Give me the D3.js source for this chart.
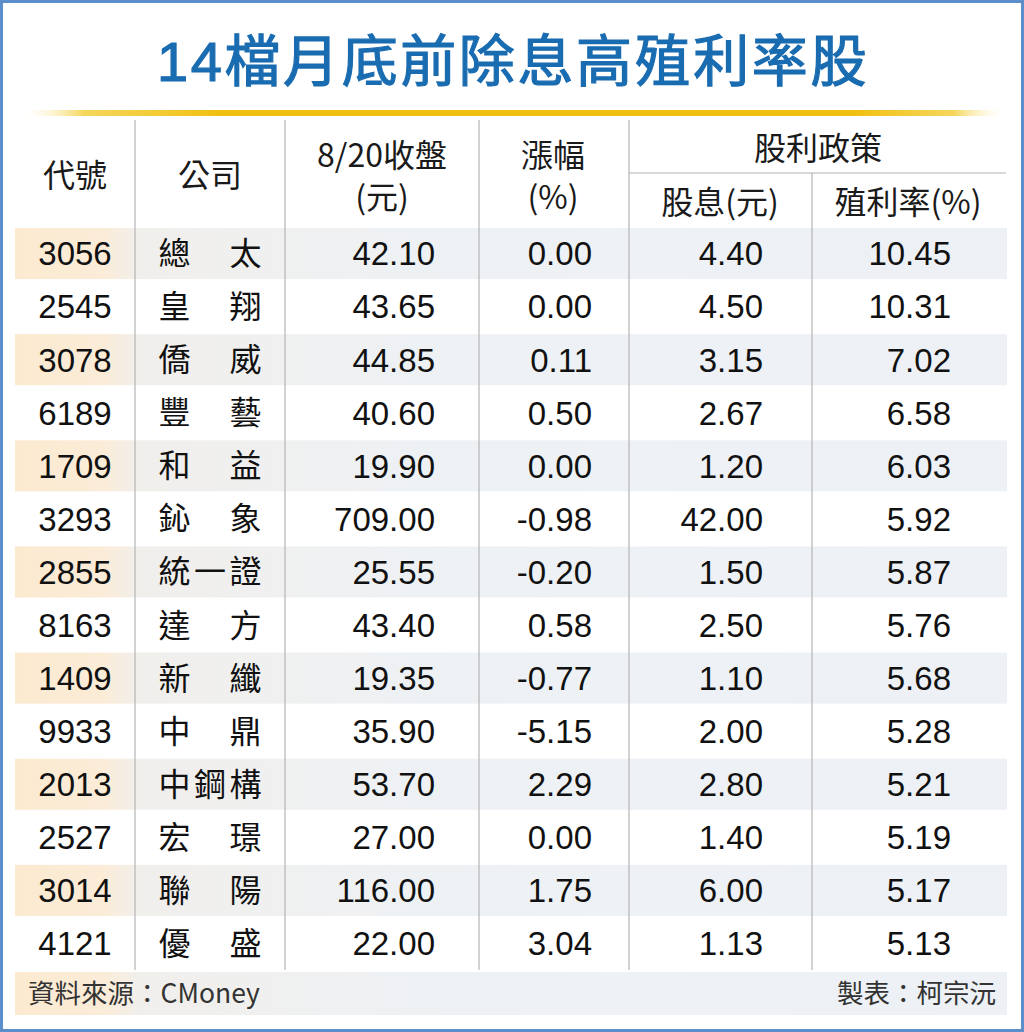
<!DOCTYPE html>
<meta charset="utf-8">
<script src="https://d3js.org/d3.v7.min.js"></script>
<style>
    body { margin: 0; background: #fff; }
    svg { display: block; }
    .num { font-family: "Liberation Sans", Arial, sans-serif; }
    .cjk { font-family: "Noto Sans CJK TC", "Noto Sans CJK SC", sans-serif; }
    .ttl { font-family: "Liberation Sans", Arial, "Noto Sans CJK TC", sans-serif; }
</style>
<body>
<div id="chart"></div>
<script>
    // table data
    var codes = ["3056", "2545", "3078", "6189", "1709", "3293", "2855", "8163", "1409", "9933", "2013", "2527", "3014", "4121"]
    var names = ["總太", "皇翔", "僑威", "豐藝", "和益", "鈊象", "統一證", "達方", "新纖", "中鼎", "中鋼構", "宏璟", "聯陽", "優盛"]
    var closes = [42.10, 43.65, 44.85, 40.60, 19.90, 709.00, 25.55, 43.40, 19.35, 35.90, 53.70, 27.00, 116.00, 22.00]
    var changes = [0.00, 0.00, 0.11, 0.50, 0.00, -0.98, -0.20, 0.58, -0.77, -5.15, 2.29, 0.00, 1.75, 3.04]
    var dividends = [4.40, 4.50, 3.15, 2.67, 1.20, 42.00, 1.50, 2.50, 1.10, 2.00, 2.80, 1.40, 6.00, 1.13]
    var yields = [10.45, 10.31, 7.02, 6.58, 6.03, 5.92, 5.87, 5.76, 5.68, 5.28, 5.21, 5.19, 5.17, 5.13]

    var title = "14檔月底前除息高殖利率股"
    var source = "資料來源：CMoney"
    var maker = "製表：柯宗沅"

    const width = 1024, height = 1032;
    const fmt = d3.formatLocale({decimal: ".", thousands: ",", grouping: [3], currency: ["", ""], minus: "-"}).format(".2f");

    var svg = d3.select("#chart").append("svg")
        .attr("width", width)
        .attr("height", height);

    var defs = svg.append("defs");

    var rowGrad = defs.append("linearGradient")
        .attr("id", "rowGrad")
        .attr("gradientUnits", "userSpaceOnUse")
        .attr("x1", 15).attr("x2", 1007).attr("y1", 0).attr("y2", 0);
    [[0, "#fcead0"], [0.09, "#fbecd8"], [0.125, "#f1efec"], [0.4, "#eef1f4"], [1, "#edf1f6"]]
        .forEach(s => rowGrad.append("stop").attr("offset", s[0]).attr("stop-color", s[1]));

    var goldGrad = defs.append("linearGradient")
        .attr("id", "goldGrad")
        .attr("x1", 0).attr("x2", 1).attr("y1", 0).attr("y2", 0);
    [[0, "#fff6cc", 0], [0.06, "#f3cc33", 0.8], [0.2, "#f0c010", 1], [0.85, "#f0c010", 1], [0.95, "#f3cc33", 0.8], [1, "#fff6cc", 0]]
        .forEach(s => goldGrad.append("stop").attr("offset", s[0]).attr("stop-color", s[1]).attr("stop-opacity", s[2]));

    // frame
    svg.append("rect")
        .attr("x", 1.5).attr("y", 1.5)
        .attr("width", width - 3).attr("height", height - 3)
        .attr("fill", "none")
        .attr("stroke", "#5b8ecb")
        .attr("stroke-width", 3);

    // title
    var t = svg.append("text")
        .attr("class", "ttl")
        .attr("x", 513).attr("y", 61)
        .attr("dy", "0.36em")
        .attr("text-anchor", "middle")
        .attr("font-size", 56)
        .attr("fill", "#1a6cb1")
        .attr("stroke", "#1a6cb1")
        .attr("stroke-width", 1.2)
        .text(title);
    var tw = t.node().getComputedTextLength();
    t.attr("letter-spacing", ((712 - tw) / title.length) + "px");

    // gold rule
    svg.append("rect")
        .attr("x", 25).attr("y", 110)
        .attr("width", 978).attr("height", 6)
        .attr("rx", 3)
        .attr("fill", "url(#goldGrad)");

    // rows
    var y = d3.scaleBand()
        .domain(d3.range(codes.length))
        .range([227, 970]);

    svg.selectAll(".band")
        .data(d3.range(codes.length).filter(i => i % 2 === 0))
        .join("rect")
        .attr("class", "band")
        .attr("x", 15).attr("width", 992)
        .attr("y", d => y(d) + 1)
        .attr("height", y.bandwidth() - 2)
        .attr("fill", "url(#rowGrad)");

    // footer band
    svg.append("rect")
        .attr("x", 15).attr("width", 992)
        .attr("y", 972).attr("height", 43)
        .attr("fill", "url(#rowGrad)");

    // grid lines
    var lineColor = "#b4b4b4";
    [135, 285, 479, 629].forEach(x => {
        svg.append("line")
            .attr("x1", x).attr("x2", x)
            .attr("y1", 120).attr("y2", 970)
            .attr("stroke", lineColor).attr("stroke-width", 1.2);
    });
    svg.append("line")
        .attr("x1", 812).attr("x2", 812)
        .attr("y1", 173).attr("y2", 970)
        .attr("stroke", lineColor).attr("stroke-width", 1.2);
    svg.append("line")
        .attr("x1", 629).attr("x2", 1006)
        .attr("y1", 173).attr("y2", 173)
        .attr("stroke", lineColor).attr("stroke-width", 1.2);

    // header
    var headers = [
        {t: "代號", x: 75, y: 175},
        {t: "公司", x: 210, y: 175},
        {t: "8/20收盤", x: 382, y: 155},
        {t: "(元)", x: 382, y: 197},
        {t: "漲幅", x: 553, y: 155},
        {t: "(%)", x: 553, y: 197},
        {t: "股利政策", x: 818, y: 148},
        {t: "股息(元)", x: 720, y: 202},
        {t: "殖利率(%)", x: 908, y: 202}
    ];
    svg.selectAll(".hdr")
        .data(headers)
        .join("text")
        .attr("class", "hdr cjk")
        .attr("x", d => d.x).attr("y", d => d.y)
        .attr("dy", "0.36em")
        .attr("text-anchor", "middle")
        .attr("font-size", 32)
        .attr("fill", "#1a1a1a")
        .text(d => d.t);

    // body cells
    var rows = svg.selectAll(".row")
        .data(d3.range(codes.length))
        .join("g")
        .attr("class", "row")
        .attr("transform", i => "translate(0," + (y(i) + y.bandwidth() / 2) + ")");

    function cell(sel, cls, x, anchor, fn) {
        sel.append("text")
            .attr("class", cls)
            .attr("x", x)
            .attr("dy", "0.36em")
            .attr("text-anchor", anchor)
            .attr("font-size", 33)
            .attr("fill", "#111")
            .text(fn);
    }
    cell(rows, "num", 75, "middle", i => codes[i]);
    cell(rows, "num", 435, "end", i => fmt(closes[i]));
    cell(rows, "num", 592, "end", i => fmt(changes[i]));
    cell(rows, "num", 763, "end", i => fmt(dividends[i]));
    cell(rows, "num", 951, "end", i => fmt(yields[i]));

    // company names spread across the cell
    var nameL = 158, nameR = 262, cw = 33;
    rows.each(function (i) {
        var chars = names[i].split("");
        var n = chars.length;
        d3.select(this).selectAll(".nm")
            .data(chars)
            .join("text")
            .attr("class", "nm cjk")
            .attr("x", (c, k) => nameL + cw / 2 + k * (nameR - nameL - cw) / (n - 1))
            .attr("dy", "0.36em")
            .attr("text-anchor", "middle")
            .attr("font-size", 32)
            .attr("fill", "#111")
            .text(c => c);
    });

    // footer
    svg.append("text")
        .attr("class", "cjk")
        .attr("x", 28).attr("y", 993)
        .attr("dy", "0.36em")
        .attr("font-size", 26.5)
        .attr("fill", "#333")
        .text(source);
    svg.append("text")
        .attr("class", "cjk")
        .attr("x", 996).attr("y", 993)
        .attr("dy", "0.36em")
        .attr("text-anchor", "end")
        .attr("font-size", 26.5)
        .attr("fill", "#333")
        .text(maker);
</script>
</body>
